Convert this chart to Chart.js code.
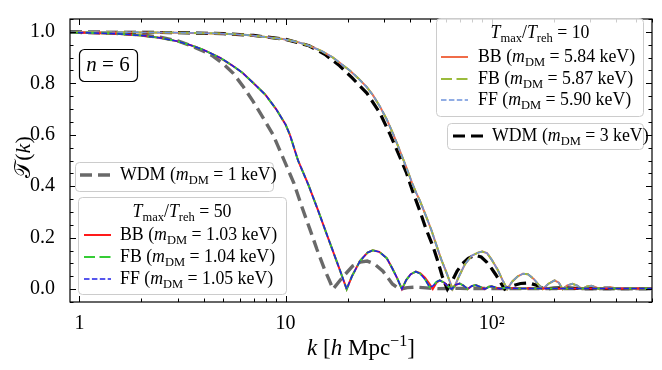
<!DOCTYPE html>
<html>
<head>
<meta charset="utf-8">
<script src="https://cdn.jsdelivr.net/npm/chart.js@4.4.1/dist/chart.umd.min.js"></script>
<style>
  html, body { margin: 0; padding: 0; background: #fff; }
  canvas { display: block; }
</style>
</head>
<body>
<canvas id="c" width="662" height="370"></canvas>
<script>
// k grid [h/Mpc] and transfer function values
var kTh50 = [0.9, 1, 1.5, 2, 2.5, 3, 3.5, 4, 4.8, 5.5, 6.2, 7, 8, 9, 10, 10.5, 11.5, 12.9, 14.4, 15.9,
  17, 18.3, 19.8, 21, 23, 25, 26.5, 28.5, 31, 33, 34.7, 36.7, 38.5, 40.5, 42.9, 45, 47.5, 50, 51.8, 54,
  56, 59, 62, 64, 67, 70, 73, 76.5, 80, 83.6, 88, 92.5, 97, 100, 105, 110, 118, 125, 135, 150,
  170, 200, 300, 600];
var bb50 = [0.998, 0.997, 0.993, 0.986, 0.976, 0.963, 0.947, 0.93, 0.9, 0.87, 0.84, 0.8, 0.755, 0.7, 0.64, 0.6, 0.5, 0.406, 0.305, 0.21,
  0.147, 0.077, 0.0, 0.05, 0.11, 0.142, 0.151, 0.145, 0.12, 0.08, 0.045, 0.0, 0.035, 0.058, 0.068, 0.062, 0.045, 0.02, 0.0, 0.025,
  0.034, 0.025, 0.008, 0.0, 0.017, 0.022, 0.014, 0.0, 0.012, 0.016, 0.009, 0.0, 0.009, 0.011, 0.006, 0.001, 0.006, 0.004, 0.002, 0.003,
  0.002, 0.002, 0.002, 0.002];
var fb50 = [0.998, 0.997, 0.993, 0.986, 0.976, 0.963, 0.947, 0.93, 0.9, 0.87, 0.84, 0.8, 0.755, 0.7, 0.64, 0.6, 0.5, 0.406, 0.305, 0.21,
  0.147, 0.077, 0.0, 0.05, 0.11, 0.142, 0.151, 0.145, 0.12, 0.08, 0.045, 0.0, 0.035, 0.058, 0.068, 0.06, 0.038, 0.008, 0.012, 0.028,
  0.034, 0.025, 0.008, 0.0, 0.017, 0.022, 0.014, 0.0, 0.012, 0.016, 0.009, 0.0, 0.009, 0.011, 0.006, 0.001, 0.006, 0.004, 0.002, 0.003,
  0.002, 0.002, 0.002, 0.002];
var ff50 = [0.998, 0.997, 0.993, 0.986, 0.976, 0.963, 0.947, 0.93, 0.9, 0.87, 0.84, 0.8, 0.755, 0.7, 0.64, 0.6, 0.5, 0.406, 0.305, 0.21,
  0.147, 0.077, 0.0, 0.05, 0.11, 0.142, 0.151, 0.145, 0.12, 0.08, 0.045, 0.0, 0.035, 0.058, 0.068, 0.06, 0.038, 0.008, 0.012, 0.028,
  0.034, 0.025, 0.008, 0.0, 0.017, 0.022, 0.014, 0.0, 0.012, 0.016, 0.009, 0.0, 0.009, 0.011, 0.006, 0.001, 0.006, 0.004, 0.002, 0.003,
  0.002, 0.002, 0.002, 0.002];

var kTh10 = [0.9, 1, 2, 3, 4, 5, 6.5, 8, 9.7, 11.5, 13.1, 15, 17, 19, 20.5, 22.5, 24.8, 26.5, 28.7, 31,
  33.2, 35, 37, 38.7, 41, 43, 44.8, 48, 51, 54, 57, 60, 62.5, 64.7, 67, 69, 74, 80, 86, 90,
  95, 100, 107, 113, 119, 126, 134, 142, 150, 160, 170, 177, 188, 202, 212, 221, 233, 247, 260, 275,
  290, 305, 320, 335, 355, 375, 400, 430, 470, 520, 600];
var bb10 = [0.999, 0.999, 0.998, 0.997, 0.995, 0.993, 0.988, 0.98, 0.972, 0.96, 0.945, 0.925, 0.9, 0.87, 0.85, 0.82, 0.785, 0.755, 0.71, 0.66,
  0.605, 0.56, 0.51, 0.47, 0.415, 0.375, 0.345, 0.285, 0.23, 0.17, 0.115, 0.07, 0.032, 0.0, 0.02, 0.045, 0.095, 0.13, 0.142, 0.146,
  0.14, 0.115, 0.075, 0.035, 0.0, 0.03, 0.05, 0.06, 0.058, 0.04, 0.015, 0.0, 0.02, 0.034, 0.025, 0.0, 0.015, 0.021, 0.014, 0.0,
  0.01, 0.013, 0.008, 0.0, 0.007, 0.008, 0.003, 0.004, 0.003, 0.002, 0.002];
var fb10 = bb10.slice();
var ff10 = bb10.slice();

var kWdm1 = [0.9, 1, 1.5, 2, 2.5, 3, 3.5, 4, 4.46, 5, 5.56, 6.2, 6.96, 7.8, 8.7, 10.1, 11, 12, 13.1, 14.2,
  15.5, 16.3, 17, 18, 19, 21.2, 23, 24.9, 27, 29.7, 31.5, 33, 35.8, 39, 43, 48, 55, 70, 100, 600];
var wdm1 = [0.999, 0.998, 0.994, 0.988, 0.978, 0.965, 0.945, 0.925, 0.905, 0.875, 0.84, 0.79, 0.73, 0.665, 0.6, 0.48, 0.41, 0.32, 0.235, 0.155,
  0.075, 0.035, 0.0, 0.025, 0.048, 0.09, 0.105, 0.109, 0.098, 0.07, 0.042, 0.02, 0.0, 0.006, 0.008, 0.005, 0.002, 0.003, 0.002, 0.002];

var kWdm3 = [0.9, 1, 2, 3, 5, 7, 10, 13, 15.5, 18.3, 21, 24.8, 28.7, 32, 35.8, 38.5, 41.4, 44.8, 48, 52,
  55, 57.6, 59.5, 61, 64.7, 68, 72, 77, 83, 89, 94.6, 100, 105, 110, 115.7, 125, 138, 152, 165, 180,
  200, 230, 270, 600];
var wdm3 = [0.999, 0.999, 0.998, 0.997, 0.993, 0.986, 0.971, 0.946, 0.913, 0.868, 0.822, 0.762, 0.685, 0.605, 0.515, 0.455, 0.38, 0.305, 0.235, 0.165,
  0.105, 0.05, 0.02, 0.0, 0.035, 0.07, 0.098, 0.12, 0.132, 0.125, 0.105, 0.08, 0.055, 0.028, 0.0, 0.012, 0.022, 0.024, 0.015, 0.0,
  0.004, 0.005, 0.002, 0.002];

var xTickVals = [1, 10, 100];
var xTickText = ['1', '10', '10\u00b2'];
var yTickVals = [0, 0.2, 0.4, 0.6, 0.8, 1.0];

var FONT = '"Liberation Serif", "DejaVu Serif", serif';
var LEG = 17.8;

function pts(ks, ts) {
  return ks.map(function (k, i) { return { x: k, y: ts[i] }; });
}

// text with italic / sub / sup pieces; y is the baseline
function rich(ctx, parts, x, y, size, align) {
  function fontOf(kind) {
    var s = (kind === 'sub' || kind === 'sup') ? size * 0.7 : size;
    return (kind === 'i' ? 'italic ' : '') + s.toFixed(1) + 'px ' + FONT;
  }
  var w = 0;
  parts.forEach(function (p) { ctx.font = fontOf(p[1]); w += ctx.measureText(p[0]).width; });
  var cx = align === 'center' ? x - w / 2 : x;
  ctx.textAlign = 'left';
  ctx.textBaseline = 'alphabetic';
  ctx.fillStyle = '#000';
  parts.forEach(function (p) {
    ctx.font = fontOf(p[1]);
    var dy = p[1] === 'sub' ? size * 0.22 : (p[1] === 'sup' ? -size * 0.4 : 0);
    ctx.fillText(p[0], cx, y + dy);
    cx += ctx.measureText(p[0]).width;
  });
  return w;
}

function legBox(ctx, x0, y0, x1, y1) {
  ctx.save();
  ctx.beginPath();
  ctx.roundRect(x0 + 0.5, y0 + 0.5, x1 - x0, y1 - y0, 4);
  ctx.fillStyle = 'rgba(255,255,255,0.8)';
  ctx.fill();
  ctx.strokeStyle = '#cccccc';
  ctx.lineWidth = 1;
  ctx.stroke();
  ctx.restore();
}

function legLine(ctx, ds, x0, x1, y) {
  ctx.save();
  ctx.strokeStyle = ds.borderColor;
  ctx.lineWidth = ds.borderWidth;
  ctx.setLineDash(ds.borderDash || []);
  ctx.beginPath();
  ctx.moveTo(x0, y);
  ctx.lineTo(x1, y);
  ctx.stroke();
  ctx.restore();
}

function mEntry(name, mass) {
  return [[name + ' (', 'r'], ['m', 'i'], ['DM', 'sub'], [' = ' + mass + ' keV)', 'r']];
}

function tTitle(val) {
  return [['T', 'i'], ['max', 'sub'], ['/', 'r'], ['T', 'i'], ['reh', 'sub'], [' = ' + val, 'r']];
}

var decor = {
  id: 'decor',
  afterDraw: function (chart) {
    var ctx = chart.ctx, ca = chart.chartArea;
    var xs = chart.scales.x, ys = chart.scales.y;
    var ds = chart.data.datasets;
    ctx.save();

    // frame and inward ticks
    ctx.strokeStyle = '#000';
    ctx.lineWidth = 1.2;
    ctx.strokeRect(ca.left, ca.top, ca.right - ca.left, ca.bottom - ca.top);
    ctx.lineWidth = 1;
    ctx.beginPath();
    [1, 10, 100].forEach(function (dec) {
      for (var m = 1; m < 10; m++) {
        var v = dec * m;
        if (v < xs.min || v > xs.max) continue;
        var px = Math.round(xs.getPixelForValue(v)) + 0.5;
        var len = m === 1 ? 6 : 3.5;
        ctx.moveTo(px, ca.bottom); ctx.lineTo(px, ca.bottom - len);
        ctx.moveTo(px, ca.top); ctx.lineTo(px, ca.top + len);
      }
    });
    for (var i = -1; i <= 21; i++) {
      var v = i * 0.05;
      var py = Math.round(ys.getPixelForValue(v)) + 0.5;
      var len = (i % 4 === 0) ? 6 : 3.5;
      ctx.moveTo(ca.left, py); ctx.lineTo(ca.left + len, py);
      ctx.moveTo(ca.right, py); ctx.lineTo(ca.right - len, py);
    }
    ctx.stroke();

    // axis titles
    rich(ctx, [['k', 'i'], [' [', 'r'], ['h', 'i'], [' Mpc', 'r'], ['\u22121', 'sup'], [']', 'r']], 361, 355, 23, 'center');
    ctx.save();
    ctx.translate(30, 157);
    ctx.rotate(-Math.PI / 2);
    rich(ctx, [['\ud835\udcaf', 'r'], ['(', 'r'], ['k', 'i'], [')', 'r']], 0, 0, 22, 'center');
    ctx.restore();

    // n = 6 box
    ctx.beginPath();
    ctx.roundRect(79.5, 49.5, 58, 32, 5);
    ctx.fillStyle = '#fff';
    ctx.fill();
    ctx.lineWidth = 1.2;
    ctx.strokeStyle = '#000';
    ctx.stroke();
    rich(ctx, [['n', 'i'], [' = 6', 'r']], 108, 71, 21, 'center');

    // legend: Tmax/Treh = 10
    legBox(ctx, 436, 18, 643, 116);
    rich(ctx, tTitle('10'), 540, 38, LEG, 'center');
    legLine(ctx, ds[5], 441, 468, 57);
    rich(ctx, mEntry('BB', '5.84'), 478, 62, LEG);
    legLine(ctx, ds[4], 441, 468, 79);
    rich(ctx, mEntry('FB', '5.87'), 478, 84, LEG);
    legLine(ctx, ds[3], 441, 468, 100);
    rich(ctx, mEntry('FF', '5.90'), 478, 105, LEG);

    // legend: WDM 3 keV
    legBox(ctx, 447, 123, 643, 149);
    legLine(ctx, ds[6], 453, 484, 136);
    rich(ctx, mEntry('WDM', '3'), 492, 141, LEG);

    // legend: WDM 1 keV
    legBox(ctx, 75, 162, 273, 191);
    legLine(ctx, ds[7], 80, 111, 175);
    rich(ctx, mEntry('WDM', '1'), 120, 180, LEG);

    // legend: Tmax/Treh = 50
    legBox(ctx, 78, 197, 286, 294);
    rich(ctx, tTitle('50'), 182, 217, LEG, 'center');
    legLine(ctx, ds[2], 84, 111, 235);
    rich(ctx, mEntry('BB', '1.03'), 120, 240, LEG);
    legLine(ctx, ds[1], 84, 111, 257);
    rich(ctx, mEntry('FB', '1.04'), 120, 262, LEG);
    legLine(ctx, ds[0], 84, 111, 279);
    rich(ctx, mEntry('FF', '1.05'), 120, 284, LEG);

    ctx.restore();
  }
};

var ctx = document.getElementById('c').getContext('2d');
var chart = new Chart(ctx, {
  type: 'line',
  data: {
    datasets: [
      { label: 'FF 50', data: pts(kTh50, ff50), borderColor: '#1f1fe8', borderWidth: 1.5, borderDash: [5.5, 2.4], order: 0 },
      { label: 'FB 50', data: pts(kTh50, fb50), borderColor: '#35cc35', borderWidth: 2, borderDash: [11, 4.5], order: 1 },
      { label: 'BB 50', data: pts(kTh50, bb50), borderColor: '#ff1a1a', borderWidth: 2, order: 2 },
      { label: 'FF 10', data: pts(kTh10, ff10), borderColor: '#6d93dc', borderWidth: 1.5, borderDash: [5.5, 2.4], order: 3 },
      { label: 'FB 10', data: pts(kTh10, fb10), borderColor: '#9bbb3c', borderWidth: 2, borderDash: [11, 4.5], order: 4 },
      { label: 'BB 10', data: pts(kTh10, bb10), borderColor: '#f06c48', borderWidth: 2, order: 5 },
      { label: 'WDM 3', data: pts(kWdm3, wdm3), borderColor: '#000000', borderWidth: 3.2, borderDash: [12, 6], order: 6 },
      { label: 'WDM 1', data: pts(kWdm1, wdm1), borderColor: '#696969', borderWidth: 3.4, borderDash: [12, 6], order: 7 }
    ]
  },
  options: {
    responsive: false,
    animation: false,
    devicePixelRatio: 1,
    elements: { point: { radius: 0 }, line: { tension: 0, fill: false } },
    layout: { padding: { top: 10, right: 10, left: 0, bottom: 0 } },
    plugins: { legend: { display: false }, tooltip: { enabled: false } },
    scales: {
      x: {
        type: 'logarithmic',
        min: 0.9,
        max: 600,
        grid: { display: false },
        border: { display: false },
        afterBuildTicks: function (s) { s.ticks = xTickVals.map(function (v) { return { value: v }; }); },
        afterFit: function (s) { s.height = 68; },
        ticks: {
          autoSkip: false,
          maxRotation: 0,
          padding: 2,
          color: '#000',
          font: { family: FONT, size: 20 },
          callback: function (v) { var i = xTickVals.indexOf(v); return i >= 0 ? xTickText[i] : ''; }
        }
      },
      y: {
        min: -0.05,
        max: 1.05,
        grid: { display: false },
        border: { display: false },
        afterBuildTicks: function (s) { s.ticks = yTickVals.map(function (v) { return { value: v }; }); },
        afterFit: function (s) { s.width = 70; },
        ticks: {
          autoSkip: false,
          padding: 7,
          color: '#000',
          font: { family: FONT, size: 20 },
          callback: function (v) { return Number(v).toFixed(1); }
        }
      }
    }
  },
  plugins: [decor]
});
</script>
</body>
</html>
